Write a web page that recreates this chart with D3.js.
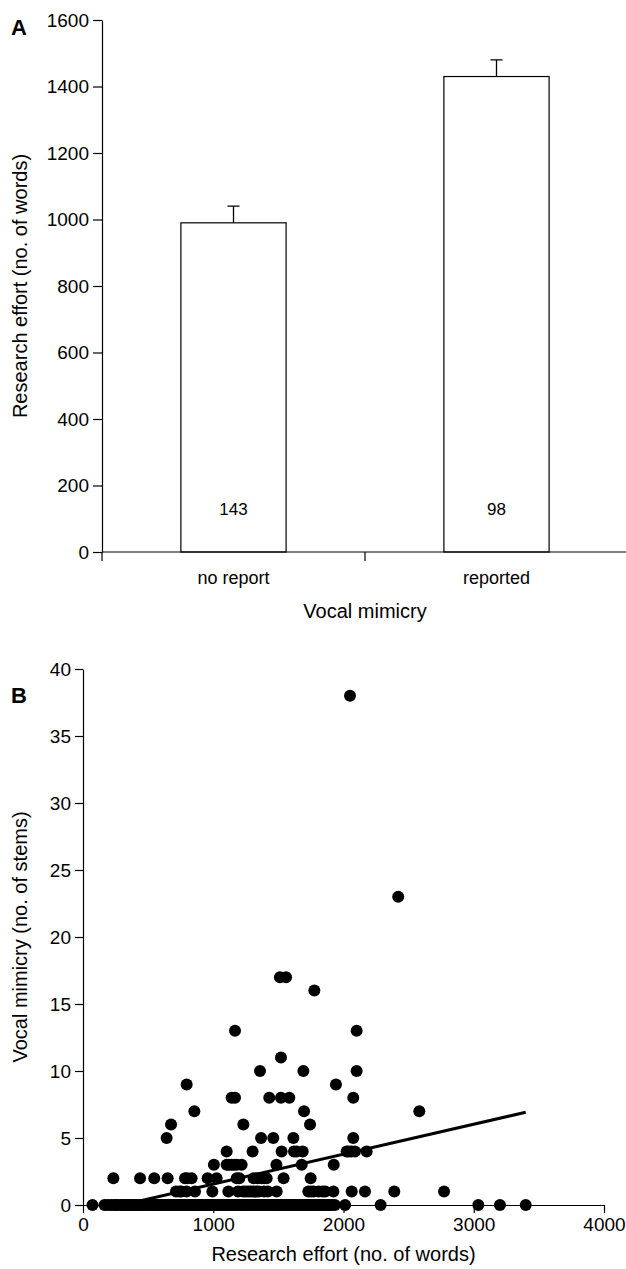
<!DOCTYPE html>
<html>
<head>
<meta charset="utf-8">
<script src="https://cdn.jsdelivr.net/npm/d3@7"></script>
<style>
  html, body { margin: 0; padding: 0; background: #fff; }
  svg { display: block; font-family: "Liberation Sans", Arial, sans-serif; }
</style>
</head>
<body>
<svg id="chart" width="626" height="1269"></svg>
<script>
// ---------- Panel A data ----------
const categories = ["no report", "reported"];
const meanEffort = [990, 1430];
const seEffort = [50, 50];
const sampleSizes = [143, 98];
const yTicksA = [0, 200, 400, 600, 800, 1000, 1200, 1400, 1600];

// ---------- Panel B data ----------
// research effort (words) for species with 0 mimicked stems
const effortZero = [73, 165, 190, 214, 236, 252, 270, 291, 305, 322,
  338, 350, 366, 381, 399, 412, 428, 446, 459, 475,
  488, 503, 517, 531, 549, 562, 578, 590, 604, 619,
  633, 648, 660, 674, 689, 702, 716, 731, 744, 758,
  772, 787, 799, 813, 826, 842, 855, 868, 881, 897,
  909, 922, 936, 950, 963, 977, 990, 1004, 1018, 1031,
  1046, 1058, 1072, 1087, 1099, 1113, 1127, 1140, 1155, 1168,
  1182, 1196, 1209, 1224, 1237, 1251, 1266, 1279, 1293, 1306,
  1321, 1334, 1349, 1362, 1377, 1390, 1404, 1418, 1433, 1447,
  1460, 1474, 1489, 1502, 1516, 1531, 1545, 1558, 1573, 1587,
  1601, 1615, 1630, 1644, 1657, 1672, 1686, 1699, 1714, 1728,
  1741, 1756, 1770, 1783, 1797, 1812, 1826, 1839, 1853, 1868,
  1882, 1896, 1911, 1934, 560, 880, 1250, 1500,
  2012, 2285, 3035, 3201, 3399];
// species with reported mimicry: effort and number of stems
const effortMimic = [
  714, 740, 755, 796, 860, 993, 1116, 1190, 1230, 1250, 1270, 1290, 1310, 1330, 1350, 1390, 1420, 1487, 1730, 1750, 1770, 1810, 1840, 1860, 1922, 2063, 2165, 2390, 2772,
  233, 438, 547, 650, 783, 800, 834, 957, 1026, 1180, 1200, 1310, 1340, 1372, 1390, 1410, 1540, 1748,
  1005, 1103, 1120, 1141, 1160, 1180, 1218, 1485, 1679, 1925,
  1103, 1302, 1525, 1620, 1640, 1687, 2024, 2040, 2060, 2088, 2178,
  642, 1367, 1461, 1615, 2075,
  676, 1231, 1743,
  855, 1697, 2582,
  1141, 1167, 1430, 1520, 1584, 2075,
  796, 1942,
  1359, 1692, 2101,
  1520,
  1167, 2101,
  1776,
  1512, 1559,
  2420,
  2050];
const stemsMimic = [
  1,1,1,1,1,1,1,1,1,1,1,1,1,1,1,1,1,1,1,1,1,1,1,1,1,1,1,1,1,
  2,2,2,2,2,2,2,2,2,2,2,2,2,2,2,2,2,2,
  3,3,3,3,3,3,3,3,3,3,
  4,4,4,4,4,4,4,4,4,4,4,
  5,5,5,5,5,
  6,6,6,
  7,7,7,
  8,8,8,8,8,8,
  9,9,
  10,10,10,
  11,
  13,13,
  16,
  17,17,
  23,
  38];
const fitLine = [[300, 0], [3399, 6.92]];
const xTicksB = [0, 1000, 2000, 3000, 4000];
const yTicksB = [0, 5, 10, 15, 20, 25, 30, 35, 40];

const svg = d3.select("#chart");
const tickFont = 19;
const fmt = d3.format("d");

// ================= Panel A =================
const gA = svg.append("g");
const yA = d3.scaleLinear().domain([0, 1600]).range([552, 20]);
const xA = d3.scaleBand().domain(categories).range([102, 628]).paddingInner(0.6).paddingOuter(0.3);
const stepA = xA.step();

// bars
gA.selectAll("rect.bar").data(categories).join("rect")
  .attr("x", d => xA(d)).attr("width", xA.bandwidth())
  .attr("y", (d, i) => yA(meanEffort[i]))
  .attr("height", (d, i) => yA(0) - yA(meanEffort[i]))
  .attr("fill", "#fff").attr("stroke", "#000").attr("stroke-width", 1.2);

// error bars (upper only)
gA.selectAll("path.err").data(categories).join("path")
  .attr("d", (d, i) => {
    const cx = xA(d) + xA.bandwidth() / 2;
    const y0 = yA(meanEffort[i]), y1 = yA(meanEffort[i] + seEffort[i]);
    return `M${cx},${y0}V${y1}M${cx - 6},${y1}H${cx + 6}`;
  })
  .attr("stroke", "#000").attr("stroke-width", 1.3).attr("fill", "none");

// sample sizes
gA.selectAll("text.n").data(categories).join("text")
  .attr("x", d => xA(d) + xA.bandwidth() / 2)
  .attr("y", yA(130)).attr("dy", "0.35em")
  .attr("text-anchor", "middle").attr("font-size", 17)
  .text((d, i) => sampleSizes[i]);

// y axis
const axA = gA.append("g").attr("transform", `translate(102,0)`)
  .call(d3.axisLeft(yA).tickValues(yTicksA).tickFormat(fmt).tickSize(9).tickSizeOuter(0).tickPadding(4));
axA.selectAll("text").attr("font-size", tickFont).attr("fill", "#000");
axA.selectAll("line,path").attr("stroke", "#000").attr("stroke-width", 1.2);
axA.attr("font-family", null);

// x axis
const axXA = gA.append("g");
axXA.append("line").attr("x1", 102).attr("x2", 628).attr("y1", yA(0)).attr("y2", yA(0))
  .attr("stroke", "#000").attr("stroke-width", 1.2);
const bounds = [102, 102 + stepA, 102 + 2 * stepA];
axXA.selectAll("line.tk").data(bounds).join("line")
  .attr("x1", d => d).attr("x2", d => d).attr("y1", yA(0)).attr("y2", yA(0) + 9)
  .attr("stroke", "#000").attr("stroke-width", 1.2);
axXA.selectAll("text").data(categories).join("text")
  .attr("x", d => xA(d) + xA.bandwidth() / 2).attr("y", yA(0) + 19).attr("dy", "0.71em")
  .attr("text-anchor", "middle").attr("font-size", 18).text(d => d);

gA.append("text").attr("x", 365).attr("y", 618).attr("text-anchor", "middle")
  .attr("font-size", 20).text("Vocal mimicry");
gA.append("text").attr("transform", "translate(27,286) rotate(-90)")
  .attr("text-anchor", "middle").attr("font-size", 20).text("Research effort (no. of words)");
gA.append("text").attr("x", 11).attr("y", 35).attr("font-size", 22).attr("font-weight", "bold").text("A");

// ================= Panel B =================
const gB = svg.append("g");
const xB = d3.scaleLinear().domain([0, 4000]).range([83, 604]);
const yB = d3.scaleLinear().domain([0, 40]).range([1205, 669]);

const axXB = gB.append("g").attr("transform", `translate(0,${yB(0)})`)
  .call(d3.axisBottom(xB).tickValues(xTicksB).tickFormat(fmt).tickSize(8).tickSizeOuter(0).tickPadding(5));
const axYB = gB.append("g").attr("transform", `translate(${xB(0)},0)`)
  .call(d3.axisLeft(yB).tickValues(yTicksB).tickFormat(fmt).tickSize(8).tickSizeOuter(0).tickPadding(4));
[axXB, axYB].forEach(a => {
  a.attr("font-family", null);
  a.selectAll("text").attr("font-size", tickFont).attr("fill", "#000");
  a.selectAll("line,path").attr("stroke", "#000").attr("stroke-width", 1.2);
});

// regression line
gB.append("path").datum(fitLine)
  .attr("d", d3.line().x(d => xB(d[0])).y(d => yB(d[1])))
  .attr("stroke", "#000").attr("stroke-width", 3).attr("fill", "none");

// points
const pts = effortZero.map(x => [x, 0]).concat(effortMimic.map((x, i) => [x, stemsMimic[i]]));
gB.selectAll("circle").data(pts).join("circle")
  .attr("cx", d => xB(d[0])).attr("cy", d => yB(d[1])).attr("r", 6).attr("fill", "#000");

gB.append("text").attr("x", (xB(0) + xB(4000)) / 2).attr("y", 1261).attr("text-anchor", "middle")
  .attr("font-size", 20).text("Research effort (no. of words)");
gB.append("text").attr("transform", `translate(27,${(yB(0) + yB(40)) / 2}) rotate(-90)`)
  .attr("text-anchor", "middle").attr("font-size", 20).text("Vocal mimicry (no. of stems)");
gB.append("text").attr("x", 11).attr("y", 703).attr("font-size", 22).attr("font-weight", "bold").text("B");
</script>
</body>
</html>
